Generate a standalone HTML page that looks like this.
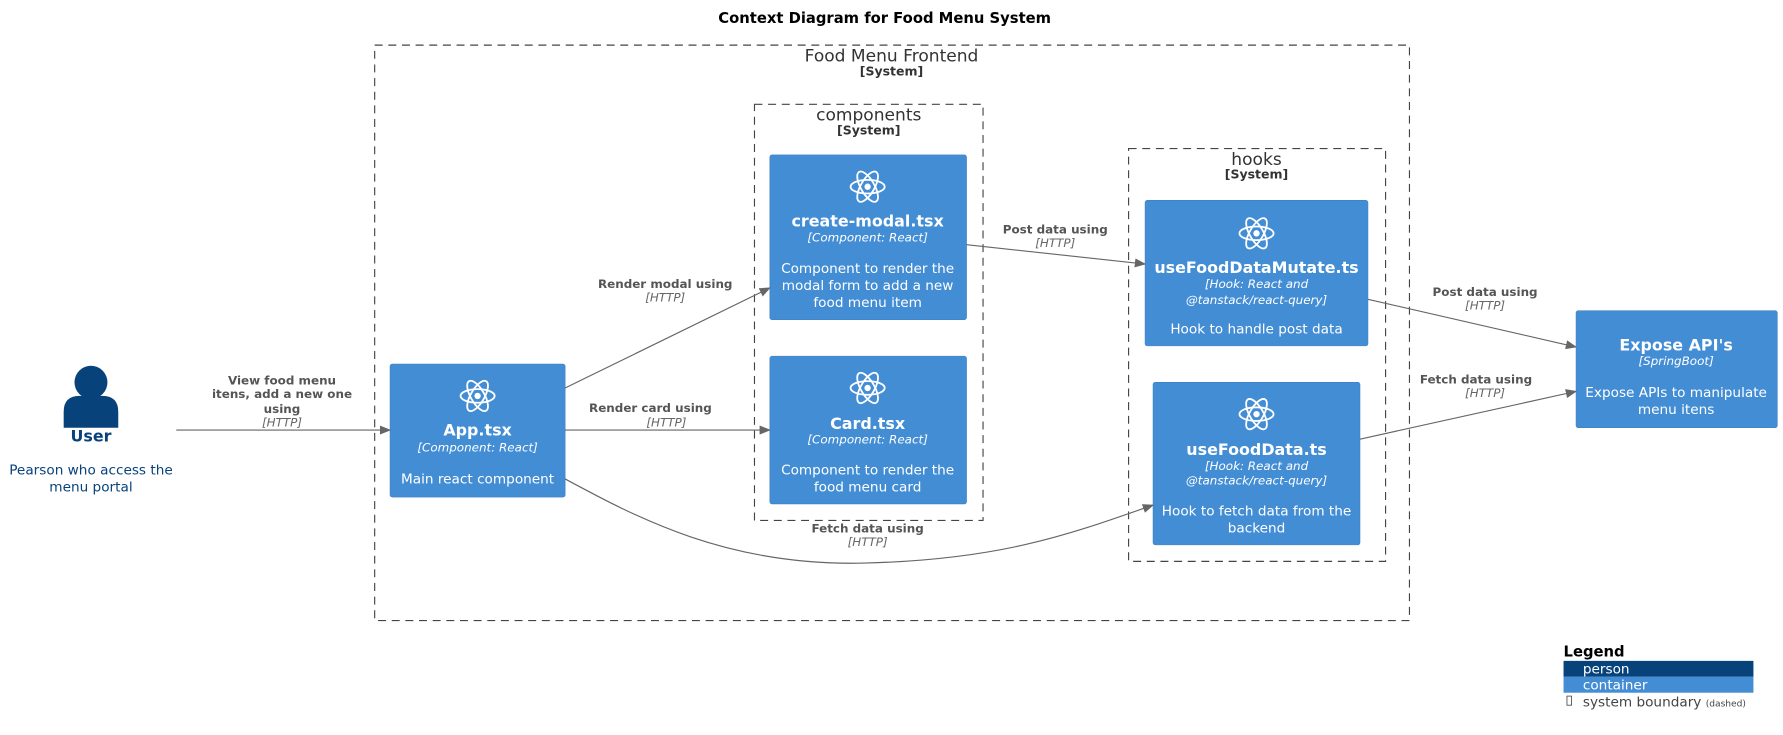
<!DOCTYPE html>
<html><head><meta charset="utf-8"><style>
html,body{margin:0;padding:0;background:#fff}
svg{display:block}
text{font-family:"DejaVu Sans","Liberation Sans",sans-serif}
.w{fill:#fff;text-anchor:middle}
.n{font-size:14px;font-weight:bold}
.t{font-size:10.5px;font-style:italic}
.d{font-size:12px}
.l{fill:#555;font-size:10.5px;font-weight:bold;text-anchor:middle}
.h{fill:#666;font-size:10.5px;font-style:italic;text-anchor:middle}
.bt{fill:#333;text-anchor:middle}
</style></head><body>
<svg width="1783" height="735" viewBox="0 0 1568 646" xmlns="http://www.w3.org/2000/svg">
<defs>
<marker id="a" markerWidth="10" markerHeight="8" refX="9" refY="4" orient="auto" markerUnits="userSpaceOnUse"><path d="M0,0 L10,4 L0,8 z" fill="#666"/></marker>
<g id="r" fill="none" stroke="#fff" stroke-width="1.6"><ellipse rx="15" ry="6"/><ellipse rx="15" ry="6" transform="rotate(60)"/><ellipse rx="15" ry="6" transform="rotate(120)"/><circle r="2.8" fill="#fff" stroke="none"/></g>
</defs>
<text x="778" y="20" text-anchor="middle" font-size="13" font-weight="bold">Context Diagram for Food Menu System</text>
<g fill="none" stroke="#444" stroke-dasharray="7,5" stroke-width="1">
<rect x="329.5" y="39.5" width="910" height="506"/>
<rect x="663.5" y="91.5" width="201" height="366"/>
<rect x="992.5" y="130.5" width="226" height="363"/>
</g>
<text class="bt" x="784" y="54" font-size="15">Food Menu Frontend</text>
<text class="bt" x="784" y="66" font-size="11" font-weight="bold">[System]</text>
<text class="bt" x="764" y="106" font-size="15">components</text>
<text class="bt" x="764" y="118" font-size="11" font-weight="bold">[System]</text>
<text class="bt" x="1105" y="145" font-size="15">hooks</text>
<text class="bt" x="1105" y="157" font-size="11" font-weight="bold">[System]</text>
<circle cx="80" cy="336" r="14.5" fill="#08427b"/>
<path d="M56,376 L56,362 Q56,348 70,348 L90,348 Q104,348 104,362 L104,376 Z" fill="#08427b"/>
<text x="80" y="388" text-anchor="middle" fill="#08427b" font-size="14" font-weight="bold">User</text>
<text x="80" y="417" text-anchor="middle" fill="#08427b" font-size="12">Pearson who access the</text>
<text x="80" y="432" text-anchor="middle" fill="#08427b" font-size="12">menu portal</text>
<g fill="#438dd5" stroke="#3c7fc0" stroke-width="0.5">
<rect x="343" y="320" width="154" height="117" rx="2"/>
<rect x="677" y="136" width="173" height="145" rx="2"/>
<rect x="677" y="313" width="173" height="130" rx="2"/>
<rect x="1007" y="176" width="196" height="128" rx="2"/>
<rect x="1014" y="336" width="182" height="143" rx="2"/>
<rect x="1386" y="273" width="177" height="103" rx="2"/>
</g>
<use href="#r" x="420" y="348"/>
<text class="w n" x="420" y="383">App.tsx</text>
<text class="w t" x="420" y="397">[Component: React]</text>
<text class="w d" x="420" y="425">Main react component</text>
<use href="#r" x="763" y="164"/>
<text class="w n" x="763" y="199">create-modal.tsx</text>
<text class="w t" x="763" y="212">[Component: React]</text>
<text class="w d" x="763" y="240">Component to render the</text>
<text class="w d" x="763" y="255">modal form to add a new</text>
<text class="w d" x="763" y="270">food menu item</text>
<use href="#r" x="763" y="341"/>
<text class="w n" x="763" y="377">Card.tsx</text>
<text class="w t" x="763" y="390">[Component: React]</text>
<text class="w d" x="763" y="417">Component to render the</text>
<text class="w d" x="763" y="432">food menu card</text>
<use href="#r" x="1105" y="205"/>
<text class="w n" x="1105" y="240">useFoodDataMutate.ts</text>
<text class="w t" x="1105" y="253">[Hook: React and</text>
<text class="w t" x="1105" y="267">@tanstack/react-query]</text>
<text class="w d" x="1105" y="293">Hook to handle post data</text>
<use href="#r" x="1105" y="364"/>
<text class="w n" x="1105" y="400">useFoodData.ts</text>
<text class="w t" x="1105" y="413">[Hook: React and</text>
<text class="w t" x="1105" y="426">@tanstack/react-query]</text>
<text class="w d" x="1105" y="453">Hook to fetch data from the</text>
<text class="w d" x="1105" y="468">backend</text>
<text class="w n" x="1474" y="308">Expose API's</text>
<text class="w t" x="1474" y="321">[SpringBoot]</text>
<text class="w d" x="1474" y="349">Expose APIs to manipulate</text>
<text class="w d" x="1474" y="364">menu itens</text>
<g fill="none" stroke="#666" stroke-width="1" marker-end="url(#a)">
<line x1="155" y1="378" x2="343" y2="378"/>
<line x1="497" y1="341" x2="677" y2="253"/>
<line x1="497" y1="378" x2="677" y2="378"/>
<path d="M497,421 C560,455 640,498 760,495 C880,492 940,470 1014,444"/>
<line x1="850" y1="215" x2="1007" y2="232"/>
<line x1="1203" y1="263" x2="1386" y2="305"/>
<line x1="1196" y1="386" x2="1386" y2="344"/>
</g>
<text class="l" x="248" y="338">View food menu</text>
<text class="l" x="248" y="350">itens, add a new one</text>
<text class="l" x="248" y="363">using</text>
<text class="h" x="248" y="375">[HTTP]</text>
<text class="l" x="585" y="253">Render modal using</text>
<text class="h" x="585" y="265">[HTTP]</text>
<text class="l" x="572" y="362">Render card using</text>
<text class="h" x="586" y="375">[HTTP]</text>
<text class="l" x="763" y="468">Fetch data using</text>
<text class="h" x="763" y="480">[HTTP]</text>
<text class="l" x="928" y="205">Post data using</text>
<text class="h" x="928" y="217">[HTTP]</text>
<text class="l" x="1306" y="260">Post data using</text>
<text class="h" x="1306" y="272">[HTTP]</text>
<text class="l" x="1298" y="337">Fetch data using</text>
<text class="h" x="1306" y="349">[HTTP]</text>
<text x="1375" y="577" font-size="13" font-weight="bold">Legend</text>
<rect x="1375" y="581" width="167" height="14" fill="#08427b"/>
<rect x="1375" y="595" width="167" height="14" fill="#438dd5"/>
<text x="1392" y="592" fill="#fff" font-size="12">person</text>
<text x="1392" y="606" fill="#fff" font-size="12">container</text>
<rect x="1378" y="612" width="4" height="8" fill="none" stroke="#555" stroke-width="0.8"/>
<text x="1392" y="621" fill="#444" font-size="12">system boundary <tspan font-size="8">(dashed)</tspan></text>
</svg>
</body></html>
